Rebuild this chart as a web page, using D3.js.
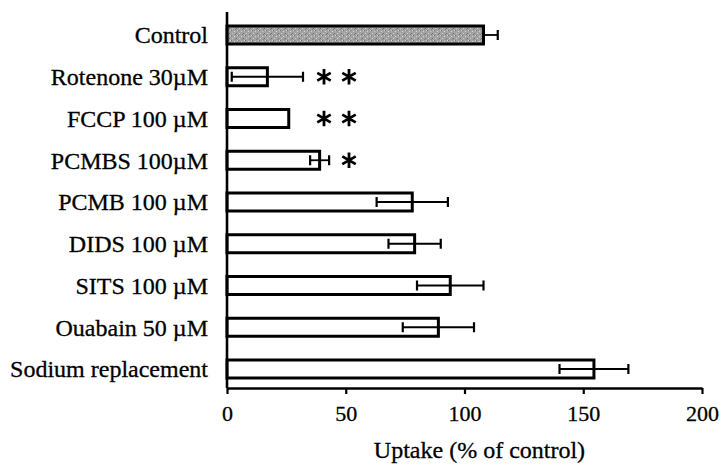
<!DOCTYPE html>
<html>
<head>
<meta charset="utf-8">
<script src="https://cdn.jsdelivr.net/npm/d3@7"></script>
<style>
  body { margin: 0; background: #fff; }
  text { font-family: "Liberation Serif", "Times New Roman", serif; fill: #000; }
</style>
</head>
<body>
<div class="chart"></div>
<script>
const categories = ['Control', 'Rotenone 30\u00b5M', 'FCCP 100 \u00b5M', 'PCMBS 100\u00b5M', 'PCMB 100 \u00b5M',
    'DIDS 100 \u00b5M', 'SITS 100 \u00b5M', 'Ouabain 50 \u00b5M', 'Sodium replacement'];
const means = [108, 17, 26, 39, 78, 79, 94, 89, 154.5];
const sems = [6, 15, 0, 4, 15, 11, 14, 15, 14.5];
const stars = [0, 2, 2, 1, 0, 0, 0, 0, 0];
const xTicks = [0, 50, 100, 150, 200];
const xTitle = 'Uptake (% of control)';

const width = 725;
const height = 466;
const axisY = 388;

const rows = categories.map((c, i) => ({ name: c, mean: means[i], sem: sems[i], stars: stars[i], i }));

const svg = d3.select('.chart')
    .append('svg')
    .attr('width', width)
    .attr('height', height);

// stipple for the control bar
const defs = svg.append('defs');
const pat = defs.append('pattern')
    .attr('id', 'stipple')
    .attr('patternUnits', 'userSpaceOnUse')
    .attr('width', 7)
    .attr('height', 5);
pat.append('rect').attr('width', 7).attr('height', 5).attr('fill', '#a2a2a2');
[[0, 0, '#6e6e6e'], [3, 1, '#d6d6d6'], [5, 3, '#707070'], [1, 3, '#cccccc'], [4, 4, '#808080'], [6, 0, '#d2d2d2']]
    .forEach(([px, py, c]) => pat.append('rect').attr('x', px).attr('y', py).attr('width', 1).attr('height', 1).attr('fill', c));

// scales
const xScale = d3.scaleLinear()
    .domain([0, 200])
    .range([227, 702]);

const yScale = d3.scalePoint()
    .domain(categories)
    .range([35, 369]);

const barH = 18;

// bars
svg.append('g')
    .selectAll('rect')
    .data(rows)
    .join('rect')
    .attr('x', xScale(0))
    .attr('y', d => yScale(d.name) - barH / 2)
    .attr('width', d => xScale(d.mean) - xScale(0))
    .attr('height', barH)
    .attr('fill', d => d.i === 0 ? 'url(#stipple)' : '#fff')
    .attr('stroke', '#000')
    .attr('stroke-width', 3);

// error bars
const errs = svg.append('g')
    .selectAll('g')
    .data(rows.filter(d => d.sem > 0))
    .join('g')
    .attr('stroke', '#000')
    .attr('stroke-width', 1.8);

errs.append('line')
    .attr('x1', d => xScale(d.i === 0 ? d.mean : d.mean - d.sem))
    .attr('x2', d => xScale(d.mean + d.sem))
    .attr('y1', d => yScale(d.name))
    .attr('y2', d => yScale(d.name));

errs.selectAll('.cap')
    .data(d => (d.i === 0 ? [d.mean + d.sem] : [d.mean - d.sem, d.mean + d.sem]).map(v => ({ v, name: d.name })))
    .join('line')
    .attr('class', 'cap')
    .attr('x1', d => xScale(d.v))
    .attr('x2', d => xScale(d.v))
    .attr('y1', d => yScale(d.name) - 5)
    .attr('y2', d => yScale(d.name) + 5)
    .attr('stroke-width', 2.2);

// significance asterisks
const star = d3.symbol().type(d3.symbolAsterisk).size(170);
svg.append('g')
    .selectAll('path')
    .data(rows.flatMap(d => d3.range(d.stars).map(k => ({ name: d.name, slot: 2 - d.stars + k }))))
    .join('path')
    .attr('d', star)
    .attr('transform', d => `translate(${xScale(40) + 2 + d.slot * 25}, ${yScale(d.name)})`)
    .attr('fill', 'none')
    .attr('stroke', '#000')
    .attr('stroke-width', 2.8);

// category labels
svg.append('g')
    .selectAll('text')
    .data(rows)
    .join('text')
    .attr('x', 208)
    .attr('y', d => yScale(d.name))
    .attr('dy', '0.35em')
    .attr('text-anchor', 'end')
    .style('font-size', '24px')
    .style('stroke', '#000')
    .style('stroke-width', 0.3)
    .text(d => d.name);

// axes
const xAxis = d3.axisBottom(xScale)
    .tickValues(xTicks)
    .tickFormat(d3.format('d'))
    .tickSizeInner(6)
    .tickSizeOuter(0)
    .tickPadding(11);

const xAxisDraw = svg.append('g')
    .attr('transform', `translate(0, ${axisY})`)
    .call(xAxis);

xAxisDraw.select('.domain').attr('stroke-width', 2.6);
xAxisDraw.selectAll('.tick line').attr('stroke-width', 2.2);
xAxisDraw.selectAll('.tick text')
    .style('font-family', '"Liberation Serif", serif')
    .style('font-size', '22px')
    .style('stroke', '#000')
    .style('stroke-width', 0.3);

svg.append('line')
    .attr('x1', xScale(0))
    .attr('x2', xScale(0))
    .attr('y1', 12)
    .attr('y2', axisY)
    .attr('stroke', '#000')
    .attr('stroke-width', 2.6);

svg.append('text')
    .attr('x', (xScale(0) + xScale(200)) / 2 + 15)
    .attr('y', 458)
    .attr('text-anchor', 'middle')
    .style('font-size', '24px')
    .style('stroke', '#000')
    .style('stroke-width', 0.3)
    .text(xTitle);
</script>
</body>
</html>
